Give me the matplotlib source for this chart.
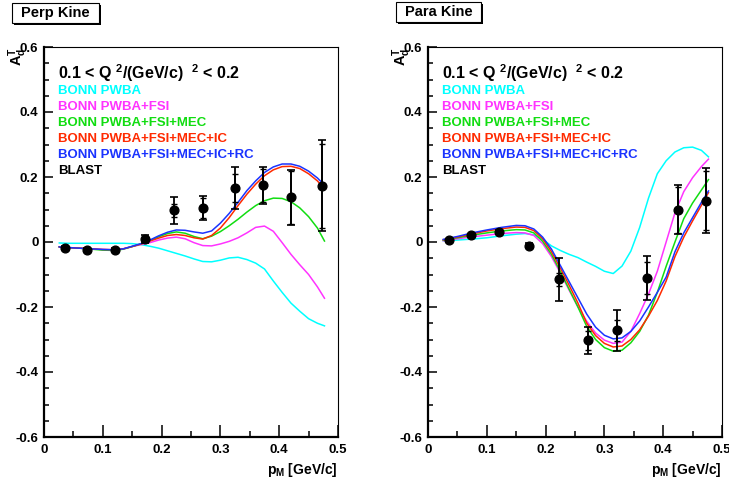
import numpy as np
import matplotlib
matplotlib.use("Agg")
import matplotlib.pyplot as plt
from matplotlib.patches import Rectangle
from matplotlib.ticker import MultipleLocator

plt.rcParams['font.family'] = ['Liberation Sans', 'DejaVu Sans']
plt.rcParams['font.weight'] = 'bold'
plt.rcParams['mathtext.fontset'] = 'custom'
plt.rcParams['mathtext.rm'] = 'Liberation Sans:bold'
plt.rcParams['mathtext.bf'] = 'Liberation Sans:bold'
plt.rcParams['mathtext.it'] = 'Liberation Sans:bold'
plt.rcParams['mathtext.default'] = 'bf'

# ---- data: Perp kinematics ----
perp_x = [0.026, 0.04, 0.06, 0.08, 0.10, 0.12, 0.135, 0.15, 0.165, 0.18, 0.195, 0.21,
          0.225, 0.24, 0.255, 0.27, 0.285, 0.30, 0.315, 0.33, 0.345, 0.36, 0.375,
          0.39, 0.405, 0.42, 0.435, 0.45, 0.465, 0.477]
perp_pwba = [-0.003, -0.004, -0.004, -0.004, -0.004, -0.004, -0.004, -0.005, -0.008, -0.013,
             -0.019, -0.027, -0.035, -0.043, -0.052, -0.060, -0.061, -0.056, -0.049, -0.047,
             -0.054, -0.065, -0.083, -0.120, -0.155, -0.188, -0.213, -0.236, -0.250, -0.258]
perp_fsi = [-0.015, -0.017, -0.019, -0.021, -0.023, -0.024, -0.021, -0.014, -0.008, -0.002,
            0.006, 0.012, 0.015, 0.010, -0.002, -0.011, -0.012, -0.006, 0.002, 0.013,
            0.028, 0.045, 0.049, 0.033, -0.002, -0.038, -0.070, -0.100, -0.138, -0.173]
perp_mec = [-0.015, -0.017, -0.019, -0.022, -0.025, -0.026, -0.022, -0.014, -0.006, 0.004,
            0.016, 0.026, 0.031, 0.027, 0.017, 0.010, 0.018, 0.032, 0.050, 0.070,
            0.092, 0.112, 0.127, 0.135, 0.134, 0.124, 0.105, 0.078, 0.043, 0.003]
perp_ic = [-0.015, -0.017, -0.019, -0.021, -0.023, -0.024, -0.021, -0.014, -0.006, 0.003,
           0.012, 0.020, 0.023, 0.020, 0.013, 0.009, 0.020, 0.043, 0.075, 0.112,
           0.147, 0.178, 0.204, 0.222, 0.232, 0.233, 0.226, 0.210, 0.188, 0.163]
perp_rc = [-0.015, -0.017, -0.019, -0.021, -0.023, -0.024, -0.021, -0.013, -0.005, 0.006,
           0.019, 0.030, 0.037, 0.036, 0.031, 0.027, 0.034, 0.058, 0.088, 0.122,
           0.158, 0.188, 0.214, 0.231, 0.240, 0.240, 0.233, 0.218, 0.197, 0.175]

perp_data_x = [0.035, 0.073, 0.121, 0.171, 0.221, 0.271, 0.325, 0.373, 0.420, 0.472]
perp_data_y = [-0.017, -0.024, -0.024, 0.009, 0.097, 0.105, 0.166, 0.174, 0.137, 0.173]
perp_err_tot = [0.005, 0.005, 0.005, 0.012, 0.042, 0.038, 0.065, 0.057, 0.085, 0.140]
perp_err_stat = [0.004, 0.004, 0.004, 0.008, 0.020, 0.030, 0.044, 0.050, 0.083, 0.130]

# ---- data: Para kinematics ----
para_x = [0.026, 0.05, 0.075, 0.10, 0.125, 0.15, 0.165, 0.18, 0.195, 0.21, 0.225, 0.24,
          0.255, 0.27, 0.285, 0.30, 0.315, 0.33, 0.345, 0.36, 0.375, 0.39, 0.405,
          0.42, 0.435, 0.45, 0.465, 0.477]
para_pwba = [0.004, 0.006, 0.009, 0.013, 0.019, 0.024, 0.026, 0.022, 0.008, -0.012,
             -0.026, -0.038, -0.048, -0.062, -0.075, -0.090, -0.097, -0.074, -0.028, 0.045,
             0.135, 0.210, 0.250, 0.277, 0.290, 0.292, 0.282, 0.262]
para_fsi = [0.004, 0.010, 0.016, 0.021, 0.026, 0.029, 0.028, 0.020, -0.005, -0.045,
            -0.095, -0.148, -0.200, -0.244, -0.280, -0.302, -0.312, -0.308, -0.275, -0.220,
            -0.160, -0.090, 0.000, 0.090, 0.155, 0.198, 0.232, 0.255]
para_mec = [0.006, 0.013, 0.021, 0.028, 0.034, 0.038, 0.037, 0.028, 0.002, -0.038,
            -0.090, -0.145, -0.200, -0.260, -0.300, -0.325, -0.336, -0.333, -0.310, -0.275,
            -0.225, -0.155, -0.075, 0.000, 0.072, 0.120, 0.160, 0.192]
para_ic = [0.007, 0.015, 0.025, 0.034, 0.041, 0.046, 0.045, 0.035, 0.010, -0.030,
           -0.080, -0.133, -0.188, -0.250, -0.288, -0.312, -0.323, -0.320, -0.300, -0.270,
           -0.228, -0.180, -0.120, -0.045, 0.015, 0.065, 0.113, 0.152]
para_rc = [0.008, 0.017, 0.028, 0.037, 0.045, 0.051, 0.050, 0.040, 0.015, -0.022,
           -0.072, -0.122, -0.172, -0.222, -0.262, -0.287, -0.298, -0.295, -0.275, -0.243,
           -0.200, -0.155, -0.108, -0.030, 0.028, 0.075, 0.122, 0.157]

para_data_x = [0.035, 0.073, 0.121, 0.171, 0.222, 0.272, 0.322, 0.372, 0.426, 0.472]
para_data_y = [0.006, 0.021, 0.032, -0.011, -0.114, -0.303, -0.272, -0.111, 0.099, 0.127]
para_err_tot = [0.004, 0.004, 0.005, 0.008, 0.066, 0.042, 0.062, 0.067, 0.075, 0.100]
para_err_stat = [0.003, 0.003, 0.004, 0.006, 0.020, 0.030, 0.033, 0.050, 0.070, 0.090]

labels = ["BONN PWBA", "BONN PWBA+FSI", "BONN PWBA+FSI+MEC",
          "BONN PWBA+FSI+MEC+IC", "BONN PWBA+FSI+MEC+IC+RC", "BLAST"]
colors = ["#00ffff", "#ff33ff", "#11dd11", "#ff2a00", "#1a33ff", "black"]

W, H = 729, 482
fig = plt.figure(figsize=(W / 100, H / 100), dpi=100)


def px_axes(x0, y0, x1, y1):
    return fig.add_axes([x0 / W, 1 - y1 / H, (x1 - x0) / W, (y1 - y0) / H])


def draw_panel(ax, x, models, dx, dy, etot, estat):
    for yv, c in zip(models, colors[:5]):
        ax.plot(x, yv, color=c, lw=1.1)
    ax.errorbar(dx, dy, yerr=etot, fmt='none', ecolor='black', elinewidth=1.3,
                capsize=3, capthick=1.2)
    ax.errorbar(dx, dy, yerr=estat, fmt='o', color='black', ecolor='black',
                elinewidth=1.3, capsize=2.5, capthick=1.0, markersize=6.3)
    ax.set_xlim(0, 0.5)
    ax.set_ylim(-0.6, 0.6)
    ax.xaxis.set_minor_locator(MultipleLocator(0.05))
    ax.yaxis.set_minor_locator(MultipleLocator(0.05))
    ax.set_xticks([0, 0.1, 0.2, 0.3, 0.4, 0.5])
    ax.set_xticklabels(["0", "0.1", "0.2", "0.3", "0.4", "0.5"])
    ax.set_yticks([-0.6, -0.4, -0.2, 0, 0.2, 0.4, 0.6])
    ax.set_yticklabels(["-0.6", "-0.4", "-0.2", "0", "0.2", "0.4", "0.6"])
    ax.tick_params(axis='x', which='major', direction='in', length=8.5, width=1.1,
                   labelsize=9.5, pad=5)
    ax.tick_params(axis='x', which='minor', direction='in', length=4.3, width=1.1)
    ax.tick_params(axis='y', which='major', direction='in', length=6.5, width=1.1,
                   labelsize=9.5, pad=4)
    ax.tick_params(axis='y', which='minor', direction='in', length=3.3, width=1.1)
    for s in ['left', 'bottom']:
        ax.spines[s].set_linewidth(1.6)
    for s in ['top', 'right']:
        ax.spines[s].set_linewidth(0.8)
    ax.text(0.048, 0.933, r"0.1 < Q $^{2}$/(GeV/c)  $^{2}$ < 0.2", transform=ax.transAxes,
            fontsize=11.5, fontweight='bold', va='center', ha='left')
    ys = [0.887, 0.846, 0.805, 0.764, 0.723, 0.682]
    for lab, c, yy in zip(labels, colors, ys):
        ax.text(0.048, yy, lab, color=c, transform=ax.transAxes, fontsize=9.5,
                fontweight='bold', va='center', ha='left')
    ax.text(-0.09, 0.975, r"A$_{d}^{T}$", transform=ax.transAxes, rotation=90,
            fontsize=10.5, fontweight='bold', va='center', ha='center')
    ax.text(1.0, -0.085, r"p$_{M}$ [GeV/c]", transform=ax.transAxes, fontsize=10,
            fontweight='bold', va='center', ha='right')


ax1 = px_axes(44, 47, 338, 437)
draw_panel(ax1, perp_x, [perp_pwba, perp_fsi, perp_mec, perp_ic, perp_rc],
           perp_data_x, perp_data_y, perp_err_tot, perp_err_stat)

ax2 = px_axes(428, 47, 722, 437)
draw_panel(ax2, para_x, [para_pwba, para_fsi, para_mec, para_ic, para_rc],
           para_data_x, para_data_y, para_err_tot, para_err_stat)


def title_box(x0, y0, x1, y1, text):
    sh = Rectangle((x0 / W + 2 / W, 1 - (y1 + 2) / H), (x1 - x0) / W, (y1 - y0) / H,
                   transform=fig.transFigure, facecolor='black', edgecolor='black', lw=0)
    bx = Rectangle((x0 / W, 1 - y1 / H), (x1 - x0) / W, (y1 - y0) / H,
                   transform=fig.transFigure, facecolor='white', edgecolor='black', lw=0.8)
    fig.patches.extend([sh, bx])
    fig.text((x0 + x1) / 2 / W, 1 - (y0 + y1) / 2 / H, text, fontsize=10.5,
             fontweight='bold', ha='center', va='center')


title_box(12, 3, 99, 23, "Perp Kine")
title_box(396, 2, 481, 22, "Para Kine")

fig.savefig("out.png", dpi=100)
